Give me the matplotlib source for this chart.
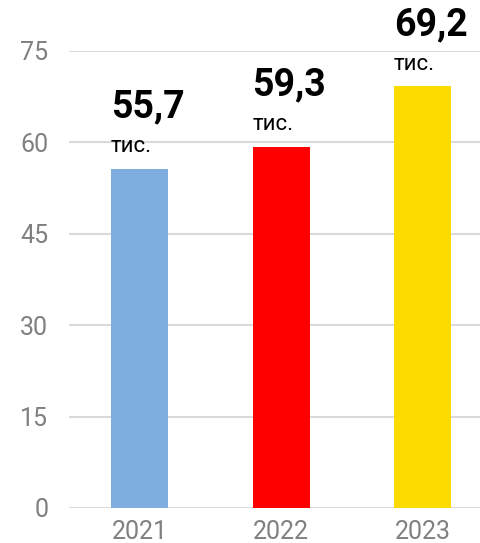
import matplotlib.pyplot as plt

# data
years = ["2021", "2022", "2023"]
values = [55.7, 59.3, 69.2]
value_labels = ["55,7", "59,3", "69,2"]
bar_colors = ["#7DAEDF", "#FF0000", "#FCDB00"]
y_ticks = [0, 15, 30, 45, 60, 75]

plt.rcParams['font.family'] = ['Roboto', 'DejaVu Sans']

fig = plt.figure(figsize=(4.81, 5.43), dpi=100)
ax = fig.add_axes([0.1435, 0.0645, 0.8565, 0.8416])

x = list(range(len(years)))
bar_w = 0.403
ax.bar(x, values, width=bar_w, color=bar_colors, zorder=3)

ax.set_xlim(-0.498, 2.413)
ax.set_ylim(0, 75)
ax.set_yticks(y_ticks)
ax.set_xticks(x)
ax.set_xticklabels(years)
ax.grid(axis='y', color='#d9d9d9', linewidth=1.5, zorder=0)
ax.set_axisbelow(True)

for side in ['top', 'right', 'left', 'bottom']:
    ax.spines[side].set_visible(False)
ax.tick_params(axis='both', length=0, labelsize=18, labelcolor='#808080')
ax.tick_params(axis='y', pad=15)
ax.tick_params(axis='x', pad=9)

# value labels: big number with "тис." under it, left aligned to the bar
for xi, v, txt in zip(x, values, value_labels):
    left = xi - bar_w / 2
    ax.annotate(txt, (left, v), xytext=(0, 37), textcoords='offset points',
                ha='left', va='baseline', fontsize=27, fontweight='bold',
                color='black', annotation_clip=False)
    ax.annotate("тис.", (left, v), xytext=(0, 12), textcoords='offset points',
                ha='left', va='baseline', fontsize=16, color='black',
                annotation_clip=False)

fig.savefig('out.png', dpi=100)
